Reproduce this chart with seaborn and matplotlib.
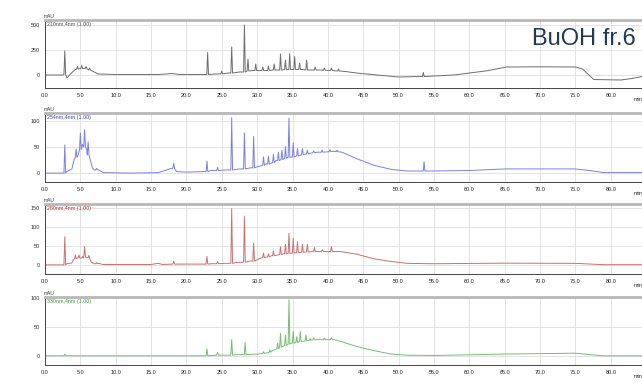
import numpy as np
import seaborn as sns
import matplotlib.pyplot as plt
from matplotlib.ticker import MultipleLocator, AutoMinorLocator

# ---- data (time in min, signal in mAU) ----
# baseline knots (t, mAU) and peaks (t, base, apex)
base_210 = [(0, 0), (2.5, 0), (3.1, -30), (3.6, 10), (4.2, 50), (6.7, 40), (7.5, 10),
            (10, 5), (16, 5), (18, 15), (19, 5), (22.5, 5), (24, 10), (26, 20),
            (27.5, 30), (29.3, 45), (31.2, 45), (32.8, 50), (36.5, 55), (38.8, 50),
            (41, 42), (42.5, 35), (44, 20), (47, 0), (50, -20), (53, -15), (57.8, 0),
            (62.6, 43), (65.2, 80), (70, 82), (75, 80), (76, 60), (77.6, -45),
            (81.4, -50), (83, -35), (84.8, -10)]
peaks_210 = [(2.8, 5, 240), (4.6, 60, 85), (5.2, 65, 95), (5.8, 65, 85), (6.3, 50, 70),
             (23.0, 5, 225), (25.0, 12, 40), (26.4, 20, 280), (28.2, 30, 500),
             (28.7, 40, 160), (29.8, 45, 110), (30.8, 45, 80), (31.6, 45, 90),
             (32.4, 50, 110), (33.3, 50, 210), (34.0, 55, 150), (34.6, 55, 215),
             (35.3, 55, 185), (36.0, 55, 120), (37.0, 50, 150), (38.2, 50, 80),
             (39.5, 48, 70), (40.5, 45, 70), (41.5, 40, 60), (53.5, -15, 25)]

base_254 = [(0, 0), (2.5, 0), (3.1, 3), (3.8, 8), (4.1, 25), (4.7, 35), (5.3, 55),
            (5.9, 45), (6.4, 25), (6.7, 10), (7.0, 6), (7.6, 6), (8.2, 1), (12, 0),
            (16, 1), (17, 5), (17.8, 9), (18.6, 3), (20, 2), (22.5, 3), (23.5, 5),
            (25.5, 6), (27.5, 8), (29, 10), (30, 12), (31.25, 18), (32.65, 24),
            (34.25, 30), (35.4, 32), (36.8, 36), (38.5, 40), (40.8, 42), (42, 40),
            (44, 28), (46.5, 15), (49, 7), (51.2, 4), (53, 4), (54.2, 4), (60, 5),
            (65, 8), (75, 8), (77, 5), (79, 1), (84.8, 1)]
peaks_254 = [(2.8, 0, 54), (4.4, 30, 46), (5.0, 45, 77), (5.6, 50, 83), (6.1, 35, 60),
             (7.3, 6, 9), (18.2, 9, 19), (22.9, 3, 23), (24.4, 5, 11), (26.4, 6, 106),
             (28.2, 8, 77), (29.5, 10, 70), (30.9, 15, 31), (31.6, 17, 32),
             (32.3, 20, 36), (33.0, 24, 40), (33.5, 26, 44), (34.0, 28, 51),
             (34.5, 30, 105), (35.1, 31, 58), (35.7, 33, 47), (36.4, 35, 47),
             (37.1, 37, 44), (38.0, 39, 43), (39.2, 40, 44), (40.3, 41, 45),
             (41.3, 41, 44), (53.6, 4, 22)]

base_280 = [(0, 0), (2.5, 0), (3.1, 3), (3.8, 5), (4.05, 15), (4.55, 18), (5.05, 18),
            (5.9, 20), (6.5, 8), (7.0, 3), (7.6, 4), (8.2, 1), (15, 1), (16, 4),
            (16.6, 1), (18.6, 2), (22, 2), (23.5, 3), (25.5, 4), (27, 6), (29, 10),
            (30.4, 17), (32, 24), (33.7, 29), (36.05, 33), (38.6, 35), (41.8, 35),
            (44.1, 28), (46.5, 16), (48.9, 9), (51.2, 4), (55, 3), (65, 4.5), (75, 4),
            (79, 0.5), (84.8, 0.5)]
peaks_280 = [(2.8, 0, 74), (4.3, 16, 26), (4.8, 18, 26), (5.3, 18, 22), (5.6, 20, 48),
             (6.2, 18, 25), (7.3, 3, 6), (18.2, 2, 10), (22.9, 2, 22), (24.4, 3, 9),
             (26.4, 4, 148), (28.2, 7, 127), (29.5, 10, 57), (30.9, 19, 31),
             (31.6, 21, 29), (32.3, 24, 37), (33.3, 27, 48), (34.0, 29, 54),
             (34.5, 30, 83), (35.1, 31, 70), (35.7, 32, 61), (36.4, 33, 54),
             (37.1, 34, 54), (38.1, 35, 46), (39.2, 35, 40), (40.5, 35, 48)]

base_330 = [(0, 0), (22, 0), (25.5, 1), (27, 2), (30, 3), (32, 8), (33.65, 16),
            (34.8, 22), (36.5, 25), (38.5, 28), (40.9, 28), (41.8, 25), (44.1, 16),
            (46.5, 9), (48.9, 3), (51.2, 1), (55, 0.5), (65, 3), (75, 4.5), (77, 2),
            (79, 0), (84.8, 0)]
peaks_330 = [(2.8, 0, 3), (22.9, 0, 12), (24.4, 1, 6), (26.4, 1, 28), (28.3, 2, 23),
             (30.9, 4, 7), (31.8, 6, 10), (32.9, 12, 22), (33.3, 15, 39), (34.0, 18, 36),
             (34.5, 20, 97), (35.1, 22, 42), (35.6, 23, 33), (36.1, 25, 42),
             (36.9, 26, 36), (37.5, 27, 30), (38.0, 28, 31), (39.5, 28, 31),
             (40.5, 28, 31)]

channel_labels = ["210nm,4nm (1.00)", "254nm,4nm (1.00)", "280nm,4nm (1.00)", "330nm,4nm (1.00)"]
line_colors = ["#6e6e6e", "#7d7df2", "#cc7070", "#72c072"]
label_colors = ["#555555", "#3c3ccc", "#b03030", "#3a9a3a"]
y_limits = [(-130, 550), (-17, 115), (-24, 160), (-16, 102)]
y_ticks = [[0, 250, 500], [0, 50, 100], [0, 50, 100, 150], [0, 50, 100]]
x_ticks = np.arange(0, 85, 5)


def build_trace(base, peaks, w=0.12):
    # merge the baseline knots with narrow triangular spikes for each peak
    t, v = [], []
    for bt, bv in base:
        if all(abs(bt - p[0]) > w for p in peaks):
            t.append(bt)
            v.append(bv)
    for pt, pb, ph in peaks:
        t += [pt - w, pt, pt + w]
        v += [pb, ph, pb]
    order = np.argsort(t)
    return np.array(t)[order], np.array(v)[order]


sns.set_style("whitegrid")
plt.rcParams['font.family'] = ['Liberation Sans', 'DejaVu Sans']

fig = plt.figure(figsize=(6.42, 3.89), dpi=100)
H = 389.0
panels_px = [(20, 88), (113, 182), (204, 274), (297, 365)]
traces = [(base_210, peaks_210), (base_254, peaks_254),
          (base_280, peaks_280), (base_330, peaks_330)]

for i, ((top, bot), (base, peaks)) in enumerate(zip(panels_px, traces)):
    ax = fig.add_axes([45 / 642, 1 - bot / H, 1 - 45 / 642 + 0.002, (bot - top) / H])
    t, v = build_trace(base, peaks)
    sns.lineplot(x=t, y=v, ax=ax, color=line_colors[i], linewidth=0.7,
                 estimator=None, sort=False)
    ax.set_xlim(0, 84.6)
    ax.set_ylim(*y_limits[i])
    ax.set_xticks(x_ticks)
    ax.set_xticklabels([f"{x:.1f}" for x in x_ticks])
    ax.set_yticks(y_ticks[i])
    ax.set_yticklabels([str(y) for y in y_ticks[i]])
    ax.xaxis.set_minor_locator(MultipleLocator(1))
    ax.yaxis.set_minor_locator(AutoMinorLocator(5))
    ax.grid(True, which='major', color='#dedede', linewidth=0.6)
    ax.tick_params(axis='both', which='both', labelsize=4, colors='#333333',
                   direction='inout', pad=2)
    ax.tick_params(axis='both', which='major', length=3, width=0.6)
    ax.tick_params(axis='both', which='minor', length=1.6, width=0.5)
    ax.tick_params(axis='x', labelcolor='#222222')
    for side in ['left', 'bottom']:
        ax.spines[side].set_color('#444444')
        ax.spines[side].set_linewidth(0.7)
    ax.spines['top'].set_color('#b8b8b8')
    ax.spines['top'].set_linewidth(2)
    ax.spines['right'].set_visible(False)
    ax.set_xlabel('')
    ax.set_ylabel('')
    ax.text(0.004, 0.97, channel_labels[i], transform=ax.transAxes, fontsize=3.8,
            color=label_colors[i], ha='left', va='top')
    ax.text(-0.003, 1.02, 'mAU', transform=ax.transAxes, fontsize=3.5,
            color='#333333', ha='left', va='bottom')
    ax.text(83.9, -0.13, 'min', transform=ax.get_xaxis_transform(), fontsize=4,
            color='#222222', ha='center', va='top')

fig.text(532 / 642, 1 - 45 / H, 'BuOH fr.6', fontsize=17, color='#1f3a5c',
         ha='left', va='baseline')

fig.savefig('out.png', dpi=100)
